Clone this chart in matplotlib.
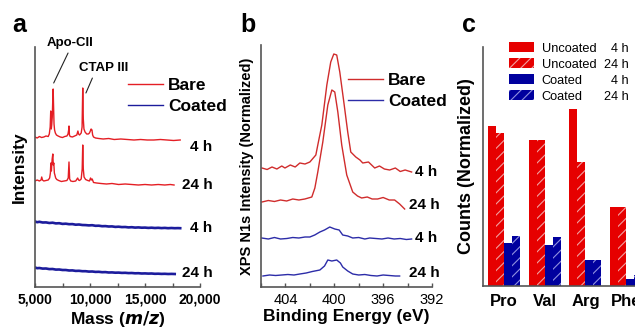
import matplotlib
matplotlib.use("Agg")
import matplotlib.pyplot as plt
from matplotlib.ticker import FixedLocator, FuncFormatter
from matplotlib.patches import Patch

plt.rcParams['font.family'] = ['Liberation Sans', 'DejaVu Sans']

# ---------------- data: panel a (MALDI mass spectra) ----------------
bare4_mass = [5000, 5200, 5400, 5600, 5800, 6000, 6200, 6300, 6380, 6430,
              6480, 6520, 6570, 6610, 6650, 6690, 6730, 6780, 6850, 6950,
              7100, 7300, 7500, 7700, 7900, 8000, 8060, 8090, 8130, 8200,
              8400, 8600, 8800, 8900, 8960, 9050, 9200, 9280, 9340, 9390,
              9450, 9550, 9700, 9850, 9950, 10030, 10100, 10180, 10240, 10320,
              10500, 10800, 11200, 11700, 12200, 12800, 13400, 14000, 14600, 15200,
              15800, 16400, 17000, 17600, 18200]
bare4_int = [150, 149, 150.5, 149.5, 150, 151, 150.5, 153, 160, 176,
             158, 162, 170, 185, 198, 180, 163, 157, 154, 152,
             151, 150, 149.5, 150.5, 151, 153, 157, 161, 152, 150.5,
             150, 151, 152, 156, 153, 152, 154, 160, 199, 168,
             158, 155, 153, 153, 154, 156, 158, 157, 152, 150,
             149, 148.5, 148, 148.5, 147.5, 148, 147.5, 147, 147.5, 147,
             147, 147.5, 147, 146.5, 147]

bare24_mass = [5000, 5200, 5400, 5550, 5610, 5680, 5800, 6000, 6200, 6330,
               6400, 6440, 6490, 6560, 6620, 6660, 6710, 6760, 6810, 6880,
               6980, 7150, 7400, 7650, 7900, 8020, 8090, 8150, 8250, 8450,
               8700, 8880, 8960, 9050, 9200, 9290, 9340, 9390, 9460, 9600,
               9800, 9950, 10050, 10120, 10200, 10320, 10600, 11000, 11500, 12000,
               12600, 13200, 13800, 14400, 15000, 15600, 16200, 16800, 17300, 17640]
bare24_int = [106, 107, 106, 107, 110, 107, 106, 106.5, 107, 109,
              114, 124, 116, 128, 133, 122, 124, 114, 112, 109,
              107.5, 106.5, 105.5, 106, 106.5, 109, 125, 108, 106, 105.5,
              106, 109, 107, 106.5, 108, 118, 142, 118, 110, 107.5,
              106.5, 106, 109, 107, 108, 104.5, 104, 103.5, 103, 103.5,
              102.5, 103, 102.5, 102, 102.5, 102, 102.5, 102, 102.5, 102]

coated_mass = [5000, 5200, 5400, 5700, 6000, 6300, 6600, 6900, 7200, 7500,
               7800, 8100, 8400, 8700, 9000, 9300, 9600, 9900, 10200, 10500,
               10800, 11100, 11400, 11700, 12000, 12300, 12600, 12900, 13200, 13500,
               13800, 14100, 14400, 14700, 15000, 15300, 15600, 15900, 16200, 16500,
               16800, 17100, 17400, 17700, 18000, 18200]
coated4_int = [65.5, 64.8, 65.2, 64.5, 64.6, 64.0, 64.3, 63.6, 63.8, 63.1,
               63.3, 62.8, 62.9, 62.3, 62.5, 62.0, 61.9, 61.6, 61.8, 61.2,
               61.3, 60.8, 60.9, 60.5, 60.6, 60.1, 60.3, 59.9, 60.0, 59.6,
               59.8, 59.4, 59.6, 59.3, 59.4, 59.1, 59.3, 59.0, 59.2, 58.9,
               59.1, 58.8, 59.0, 58.8, 58.9, 58.8]
coated24_int = [19.5, 18.8, 19.0, 18.4, 18.5, 17.9, 18.0, 17.4, 17.5, 17.0,
                17.0, 16.5, 16.6, 16.1, 16.2, 15.8, 15.8, 15.4, 15.5, 15.1,
                15.2, 14.8, 14.9, 14.5, 14.6, 14.3, 14.4, 14.1, 14.2, 13.9,
                14.0, 13.7, 13.8, 13.5, 13.6, 13.4, 13.5, 13.2, 13.3, 13.1,
                13.2, 13.0, 13.1, 13.0]

# ---------------- data: panel b (XPS N1s) ----------------
xps_bare4_ev = [405.92, 405.5, 405.1, 404.7, 404.3, 404.04, 403.6, 403.2, 402.82, 402.4,
                402.0, 401.51, 401.35, 401.02, 400.61, 400.29, 400.04, 399.80, 399.55, 399.22,
                398.90, 398.65, 398.24, 397.9, 397.67, 397.2, 396.69, 396.3, 395.9, 395.47,
                395.0, 394.6, 394.2, 393.67]
xps_bare4 = [119, 117.5, 120, 118, 121, 119, 122, 120, 124, 123,
             125, 132, 142, 162, 202, 225, 233, 232, 215, 185,
             155, 135, 130, 127, 124, 125, 119, 121, 118, 117,
             119, 115.5, 117, 115]

xps_bare24_ev = [405.92, 405.4, 404.9, 404.4, 403.9, 403.4, 402.9, 402.41, 401.84, 401.59,
                 401.35, 400.94, 400.53, 400.20, 399.96, 399.71, 399.39, 398.98, 398.49, 398.1,
                 397.76, 397.3, 396.9, 396.45, 396.0, 395.5, 395.06, 394.65, 394.24]
xps_bare24 = [85, 86.5, 85.5, 87, 86, 88, 87, 88, 90, 99,
              115, 145, 182, 197, 195, 175, 142, 112, 95, 91,
              89, 90, 88, 88, 89.5, 87, 87, 83, 78]

xps_coated4_ev = [405.94, 405.4, 404.9, 404.4, 403.88, 403.4, 402.9, 402.4, 402.0, 401.6,
                  401.18, 400.8, 400.37, 399.96, 399.6, 399.31, 398.9, 398.49, 398.0, 397.5,
                  397.10, 396.6, 396.1, 395.6, 395.1, 394.6, 394.1, 393.67]
xps_coated4 = [49, 48, 49.5, 48, 48.5, 49.5, 49, 50, 50, 52,
               55, 57, 60, 58, 57, 52, 51, 49, 49.5, 48,
               49, 48.5, 48, 49, 48, 48.5, 47.5, 48]

xps_coated24_ev = [405.84, 405.3, 404.8, 404.3, 403.8, 403.3, 402.82, 402.3, 401.8, 401.18,
                   400.8, 400.53, 400.2, 399.80, 399.5, 399.31, 398.9, 398.49, 398.0, 397.5,
                   397.0, 396.5, 396.0, 395.5, 395.0, 394.65]
xps_coated24 = [11, 12, 11.5, 12, 12.5, 12, 13, 14, 15.5, 17,
                21, 27, 26, 27, 24, 20, 16, 13, 12, 12.5,
                11.5, 11, 12, 11.5, 11, 11]

# ---------------- data: panel c (amino acid counts) ----------------
amino_acids = ['Pro', 'Val', 'Arg', 'Phe']
uncoated_4h = [0.67, 0.61, 0.74, 0.33]
uncoated_24h = [0.64, 0.61, 0.52, 0.33]
coated_4h = [0.18, 0.17, 0.11, 0.03]
coated_24h = [0.21, 0.205, 0.11, 0.045]
legend_names = ['Uncoated', 'Uncoated', 'Coated', 'Coated']
legend_times = ['4 h', '24 h', '4 h', '24 h']

mass_ticks = [5000, 10000, 15000, 20000]
ev_ticks = [404, 400, 396, 392]

# ---------------- figure ----------------
W, H = 635, 331
fig = plt.figure(figsize=(W / 100, H / 100), dpi=100)


def box(x0, y0, x1, y1):
    return [x0 / W, 1 - y1 / H, (x1 - x0) / W, (y1 - y0) / H]


def fx(x):
    return x / W


def fy(y):
    return 1 - y / H


RED_A = '#e41e24'
BLUE_A = '#1c1c9c'
RED_B = '#d02c2c'
BLUE_B = '#2c2ca8'
SPINE = '#555555'


def style_axes(ax):
    for s in ('top', 'right'):
        ax.spines[s].set_visible(False)
    for s in ('left', 'bottom'):
        ax.spines[s].set_color(SPINE)
        ax.spines[s].set_linewidth(1.2)
    ax.set_yticks([])


# ---- panel a ----
axa = fig.add_axes(box(35, 47, 200, 287))
style_axes(axa)
axa.plot(bare4_mass, bare4_int, color=RED_A, lw=1.0, label='Bare')
axa.plot(bare24_mass, bare24_int, color=RED_A, lw=1.0)
axa.plot(coated_mass[:len(coated4_int)], coated4_int, color=BLUE_A, lw=1.9, label='Coated')
axa.plot(coated_mass[:len(coated24_int)], coated24_int, color=BLUE_A, lw=1.9)
axa.set_xlim(5000, 20000)
axa.set_ylim(0, 240)
axa.xaxis.set_major_locator(FixedLocator(mass_ticks))
axa.xaxis.set_minor_locator(FixedLocator([7500, 12500, 17500]))
axa.xaxis.set_major_formatter(FuncFormatter(lambda v, p: f'{int(v):,}'))
axa.tick_params(axis='x', which='both', direction='in', length=3, color=SPINE, width=1)
axa.tick_params(axis='x', labelsize=10, pad=4)
for t in axa.get_xticklabels():
    t.set_fontweight('bold')
axa.set_xlabel('Mass ($\\boldsymbol{m/z}$)', fontsize=12.5, fontweight='bold', labelpad=2)
axa.set_ylabel('Intensity', fontsize=12.5, fontweight='bold', labelpad=6)
leg_a = axa.legend(loc='upper left', bbox_to_anchor=((128 - 35) / 165, (287 - 78) / 240),
                   frameon=False, prop={'weight': 'bold', 'size': 12.5},
                   handlelength=2.0, handletextpad=0.3, labelspacing=0.35,
                   borderpad=0, borderaxespad=0)
for ln in leg_a.get_lines():
    ln.set_linewidth(1.0)
fig.text(fx(212), fy(147), '4 h', ha='right', va='center', fontsize=11, fontweight='bold')
fig.text(fx(213), fy(185), '24 h', ha='right', va='center', fontsize=11, fontweight='bold')
fig.text(fx(212), fy(228), '4 h', ha='right', va='center', fontsize=11, fontweight='bold')
fig.text(fx(213), fy(273), '24 h', ha='right', va='center', fontsize=11, fontweight='bold')
axa.annotate('Apo-CII', xy=(6700, 204), xytext=(8180, 244), textcoords='data',
             ha='center', va='center', fontsize=9.5, fontweight='bold', annotation_clip=False,
             arrowprops=dict(arrowstyle='-', lw=0.8, color='#222222', relpos=(0.5, 0), shrinkA=1, shrinkB=0))
axa.annotate('CTAP III', xy=(9630, 194), xytext=(11270, 219), textcoords='data',
             ha='center', va='center', fontsize=9.5, fontweight='bold', annotation_clip=False,
             arrowprops=dict(arrowstyle='-', lw=0.8, color='#222222', relpos=(0.3, 0), shrinkA=1, shrinkB=0))
fig.text(fx(12), fy(25), 'a', ha='left', va='center', fontsize=18, fontweight='bold')

# ---- panel b ----
axb = fig.add_axes(box(261, 45, 432, 287))
style_axes(axb)
axb.plot(xps_bare4_ev, xps_bare4, color=RED_B, lw=1.0, label='Bare')
axb.plot(xps_bare24_ev, xps_bare24, color=RED_B, lw=1.0)
axb.plot(xps_coated4_ev, xps_coated4, color=BLUE_B, lw=1.0, label='Coated')
axb.plot(xps_coated24_ev, xps_coated24, color=BLUE_B, lw=1.0)
axb.set_xlim(406, 392)
axb.set_ylim(0, 242)
axb.xaxis.set_major_locator(FixedLocator(ev_ticks))
axb.xaxis.set_minor_locator(FixedLocator([406, 402, 398, 394]))
axb.tick_params(axis='x', which='both', direction='in', length=3, color=SPINE, width=1)
axb.tick_params(axis='x', labelsize=10.5, pad=4)
axb.set_xlabel('Binding Energy (eV)', fontsize=12.5, fontweight='bold', labelpad=2)
axb.set_ylabel('XPS N1s Intensity (Normalized)', fontsize=10.5, fontweight='bold', labelpad=5)
axb.legend(loc='upper left', bbox_to_anchor=((348 - 261) / 171, (287 - 73) / 242),
           frameon=False, prop={'weight': 'bold', 'size': 12.5},
           handlelength=2.0, handletextpad=0.3, labelspacing=0.35,
           borderpad=0, borderaxespad=0)
fig.text(fx(437), fy(172), '4 h', ha='right', va='center', fontsize=11, fontweight='bold')
fig.text(fx(440), fy(205), '24 h', ha='right', va='center', fontsize=11, fontweight='bold')
fig.text(fx(437), fy(238), '4 h', ha='right', va='center', fontsize=11, fontweight='bold')
fig.text(fx(440), fy(273), '24 h', ha='right', va='center', fontsize=11, fontweight='bold')
fig.text(fx(240), fy(25), 'b', ha='left', va='center', fontsize=18, fontweight='bold')

# ---- panel c ----
group_px = 40.7
xl = -0.516
xr = 3.55
axc = fig.add_axes(box(483, 47, 483 + (xr - xl) * group_px, 286))
style_axes(axc)
RED_C = '#e60000'
BLUE_C = '#00009e'
bw = 0.197
xs = list(range(len(amino_acids)))
plt.rcParams['hatch.linewidth'] = 0.8
series = [
    (uncoated_4h, RED_C, None, RED_C),
    (uncoated_24h, RED_C, '///', '#f0a0a0'),
    (coated_4h, BLUE_C, None, BLUE_C),
    (coated_24h, BLUE_C, '///', '#9090e0'),
]
handles = []
for i, (vals, fc, hatch, ec) in enumerate(series):
    pos = [x + (i - 1.5) * bw for x in xs]
    axc.bar(pos, vals, width=bw, color=fc, edgecolor=ec, linewidth=0, hatch=hatch)
    handles.append(Patch(facecolor=fc, edgecolor=ec, hatch=hatch, linewidth=0,
                         label=legend_names[i]))
axc.set_xlim(xl, xr)
axc.set_ylim(0, 1)
axc.set_xticks(xs)
axc.set_xticklabels(amino_acids, fontsize=12, fontweight='bold')
axc.tick_params(axis='x', length=0, pad=6)
axc.set_ylabel('Counts (Normalized)', fontsize=13, fontweight='bold', labelpad=6)
leg_c = axc.legend(handles=handles, loc='upper left',
                   bbox_to_anchor=((509 - 483) / ((xr - xl) * group_px), 1.0 + 5 / 239),
                   frameon=False, prop={'size': 9.2, 'weight': 'normal'},
                   handlelength=1.95, handleheight=0.85, handletextpad=0.6, labelspacing=0.28,
                   borderpad=0, borderaxespad=0)
fig.text(fx(462), fy(25), 'c', ha='left', va='center', fontsize=18, fontweight='bold')

# align time labels with the legend rows
fig.canvas.draw()
inv = fig.transFigure.inverted()
for t, txt in zip(leg_c.get_texts(), legend_times):
    bb = t.get_window_extent()
    ymid = inv.transform((0, (bb.y0 + bb.y1) / 2))[1]
    fig.text(fx(629), ymid, txt, ha='right', va='center', fontsize=9.2)

fig.savefig('out.png', dpi=100)
